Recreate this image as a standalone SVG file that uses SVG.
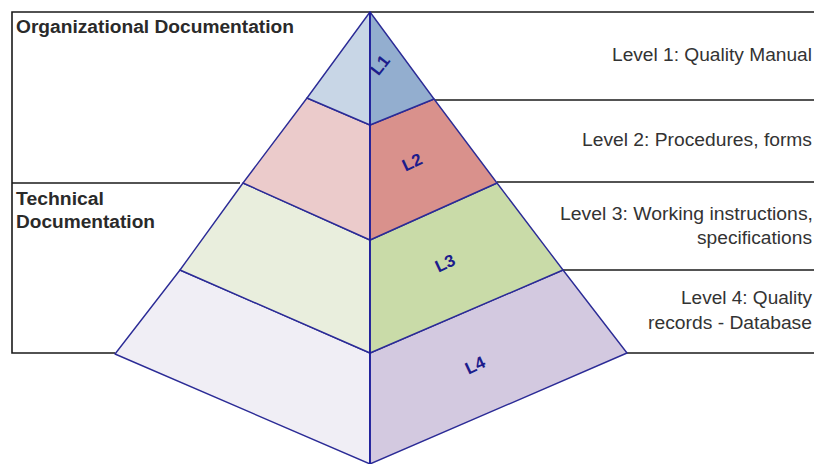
<svg xmlns="http://www.w3.org/2000/svg" width="814" height="464" viewBox="0 0 814 464">
<style>
.frame{fill:none;stroke:#1a1a1a;stroke-width:1.6}
.face{stroke:#2b2b96;stroke-width:1.4;stroke-linejoin:round}
.axis{stroke:#1c1c9c;stroke-width:1.6}
.lbl{font-family:"Liberation Sans",Arial,sans-serif;font-size:17px;font-weight:bold;fill:#1c1c8c;text-anchor:middle}
.side{font-family:"Liberation Sans",Arial,sans-serif;font-size:17.5px;fill:#333;text-anchor:end}
.head{font-family:"Liberation Sans",Arial,sans-serif;font-size:17.5px;font-weight:bold;fill:#2a2a2a}
</style>
<rect width="814" height="464" fill="#fff"/>
<g id="connectors">
<polyline class="frame" points="240,183 12,183"/>
<polyline class="frame" points="814,12 12,12 12,353 115,353"/>
<line class="frame" x1="434" y1="100" x2="814" y2="100"/>
<line class="frame" x1="497" y1="182" x2="814" y2="182"/>
<line class="frame" x1="563" y1="270" x2="814" y2="270"/>
<line class="frame" x1="627" y1="353" x2="814" y2="353"/>
</g>
<g id="L4">
<polygon class="face" fill="#f0eef5" points="115,354 180,270 370,353 370,464"/>
<polygon class="face" fill="#d3c9e0" points="370,353 563,270 627,353 370,464"/>
<text class="lbl" dy="6" transform="translate(475,365) rotate(-25)">L4</text>
</g>
<g id="L3">
<polygon class="face" fill="#e9eedd" points="180,270 243,183 370,240 370,353"/>
<polygon class="face" fill="#c9dba8" points="370,240 497,183 563,270 370,353"/>
<text class="lbl" dy="6" transform="translate(445,263) rotate(-25)">L3</text>
</g>
<g id="L2">
<polygon class="face" fill="#ebcbcb" points="243,183 307,98 370,125 370,240"/>
<polygon class="face" fill="#d9918c" points="370,125 434,99 497,183 370,240"/>
<text class="lbl" dy="6" transform="translate(412,162) rotate(-25)">L2</text>
</g>
<g id="L1">
<polygon class="face" fill="#c8d6e6" points="370,12 307,98 370,125"/>
<polygon class="face" fill="#93aecf" points="370,12 434,99 370,125"/>
<text class="lbl" dy="6" transform="translate(380,65) rotate(-52)">L1</text>
</g>
<line class="axis" x1="370" y1="12" x2="370" y2="464"/>
<g id="labels">
<text class="head" x="16" y="33" textLength="278" lengthAdjust="spacingAndGlyphs">Organizational Documentation</text>
<text class="head" x="16" y="205" textLength="88" lengthAdjust="spacingAndGlyphs">Technical</text>
<text class="head" x="16" y="228" textLength="139" lengthAdjust="spacingAndGlyphs">Documentation</text>
<text class="side" x="812" y="61" textLength="200" lengthAdjust="spacingAndGlyphs">Level 1: Quality Manual</text>
<text class="side" x="812" y="146" textLength="230" lengthAdjust="spacingAndGlyphs">Level 2: Procedures, forms</text>
<text class="side" x="813" y="220" textLength="253" lengthAdjust="spacingAndGlyphs">Level 3: Working instructions,</text>
<text class="side" x="812" y="244" textLength="115" lengthAdjust="spacingAndGlyphs">specifications</text>
<text class="side" x="812" y="304" textLength="131" lengthAdjust="spacingAndGlyphs">Level 4: Quality</text>
<text class="side" x="812" y="329" textLength="164" lengthAdjust="spacingAndGlyphs">records - Database</text>
</g>
</svg>
